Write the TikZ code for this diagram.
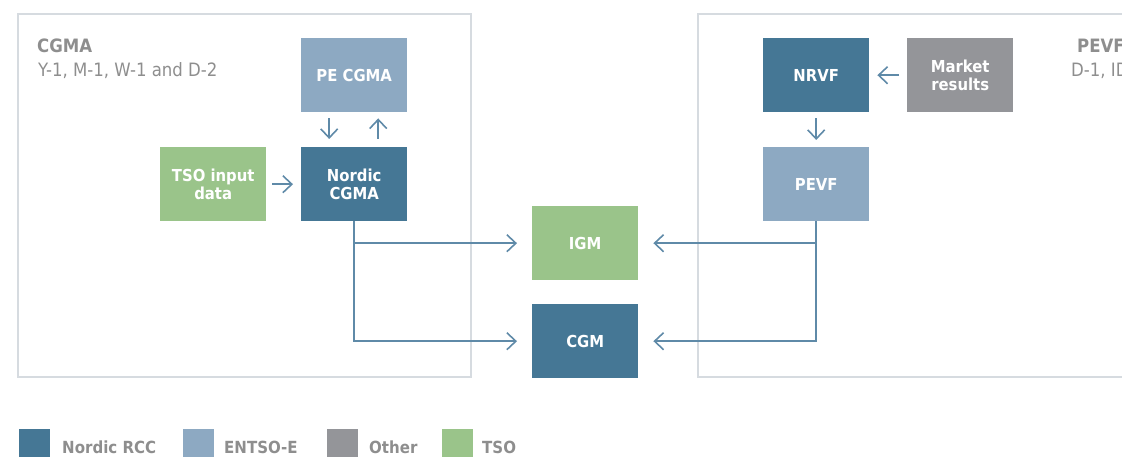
\documentclass[tikz,border=0pt]{standalone}
\usepackage{fontspec}
\setmainfont{DejaVu Sans Condensed}
\usetikzlibrary{arrows.meta}

\definecolor{rccblue}{HTML}{457795}
\definecolor{entsoblue}{HTML}{8DA9C2}
\definecolor{othergrey}{HTML}{949599}
\definecolor{tsogreen}{HTML}{9AC48A}
\definecolor{framegrey}{HTML}{D6DBE0}
\definecolor{linkblue}{HTML}{5F8AA8}
\definecolor{labelgrey}{HTML}{8E8E8E}

\begin{document}
\begin{tikzpicture}[x=1pt,y=-1pt,
  box/.style={minimum width=106pt, minimum height=74pt, inner sep=0pt,
    text=white, font=\fontsize{16.5}{17.5}\selectfont\bfseries, align=center,
    anchor=north west},
  link/.style={draw=linkblue, line width=1.6pt,
    -{Straight Barb[length=9pt,width=17pt]}},
  frame/.style={draw=framegrey, line width=1.8pt},
  title/.style={anchor=base west, inner sep=0pt, text=labelgrey,
    font=\fontsize{18.4}{20}\selectfont\bfseries},
  subtitle/.style={anchor=base west, inner sep=0pt, text=labelgrey,
    font=\fontsize{18.4}{19}\selectfont},
  swatch/.style={minimum width=31pt, minimum height=28pt, inner sep=0pt,
    anchor=north west},
  legendtext/.style={anchor=base west, inner sep=0pt, text=labelgrey,
    font=\fontsize{16.7}{17}\selectfont\bfseries}
]
\useasboundingbox (0,0) rectangle (1122,457);
\clip (0,0) rectangle (1122,457);

% process frames
\draw[frame] (18,14) rectangle (471,377);
\draw[frame] (698,14) rectangle (1140,377);

% frame headings
\node[title] (cgmatitle) at (37,53) {CGMA};
\node[subtitle] (cgmasub) at (38,77) {Y-1, M-1, W-1 and D-2};
\node[title] (pevftitle) at (1077,53) {PEVF};
\node[subtitle] (pevfsub) at (1071,77) {D-1, ID};

% CGMA side
\node[box, fill=entsoblue] (pecgma) at (301,38) {PE CGMA};
\node[box, fill=rccblue] (ncgma) at (301,147) {Nordic\\CGMA};
\node[box, fill=tsogreen] (tso) at (160,147) {TSO input\\data};

% PEVF side
\node[box, fill=rccblue] (nrvf) at (763,38) {NRVF};
\node[box, fill=othergrey] (market) at (907,38) {Market\\results};
\node[box, fill=entsoblue] (pevf) at (763,147) {PEVF};

% common models
\node[box, fill=tsogreen] (igm) at (532,206) {IGM};
\node[box, fill=rccblue] (cgm) at (532,304) {CGM};

% connectors
\draw[link] ([xshift=-25pt,yshift=-6pt]pecgma.south) -- ([xshift=-25pt,yshift=8pt]ncgma.north);
\draw[link] ([xshift=24pt,yshift=8pt]ncgma.north) -- ([xshift=24pt,yshift=-6pt]pecgma.south);
\draw[link] ([xshift=6pt]tso.east) -- ([xshift=-8pt]ncgma.west);
\draw[link] ([xshift=-8pt]market.west) -- ([xshift=8pt]nrvf.east);
\draw[link] ([yshift=-6pt]nrvf.south) -- ([yshift=7pt]pevf.north);

\draw[link] (ncgma.south) |- ([xshift=-15pt]cgm.west);
\draw[link] (ncgma.south |- igm.west) -- ([xshift=-15pt]igm.west);
\draw[link] (pevf.south) |- ([xshift=15pt]cgm.east);
\draw[link] (pevf.south |- igm.east) -- ([xshift=15pt]igm.east);

% legend
\node[swatch, fill=rccblue] (lg1) at (19,429) {};
\node[legendtext] (lt1) at (62,453) {Nordic RCC};
\node[swatch, fill=entsoblue] (lg2) at (183,429) {};
\node[legendtext] (lt2) at (224,453) {ENTSO-E};
\node[swatch, fill=othergrey] (lg3) at (327,429) {};
\node[legendtext] (lt3) at (369,453) {Other};
\node[swatch, fill=tsogreen] (lg4) at (442,429) {};
\node[legendtext] (lt4) at (482,453) {TSO};
\end{tikzpicture}
\end{document}
